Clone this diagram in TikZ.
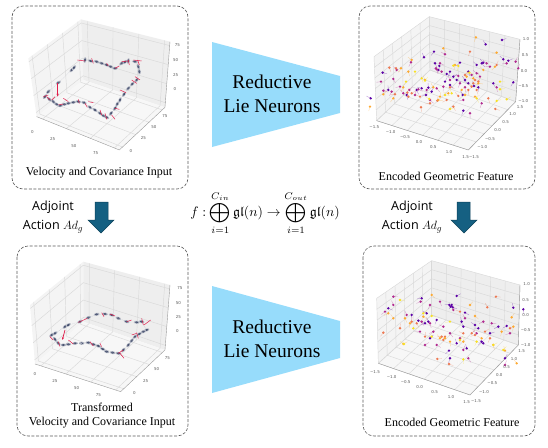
\documentclass[tikz,border=0pt]{standalone}
\usepackage{amsmath, amssymb, amsfonts}
\usepackage{fontspec}
\setmainfont{Liberation Serif}
\setsansfont{DejaVu Sans}
\newfontfamily\adjfont{Open Sans}
\usepackage{tikz}
\usetikzlibrary{arrows.meta, calc}
\usepackage{xcolor}
\definecolor{lieblue}{RGB}{151, 220, 251}
\definecolor{adjblue}{RGB}{21, 96, 130}
\definecolor{trackred}{RGB}{225, 30, 75}
\definecolor{trackdark}{RGB}{72, 82, 112}
\definecolor{plasmaA}{RGB}{92, 1, 166}
\definecolor{plasmaB}{RGB}{177, 42, 144}
\definecolor{plasmaC}{RGB}{237, 121, 83}
\definecolor{plasmaD}{RGB}{253, 170, 50}
\definecolor{plasmaE}{RGB}{248, 225, 35}

% panes, grid and axes of one 3d plot
\newcommand{\plotpanes}[8]{%
  \coordinate (pL) at (#1); \coordinate (pF) at (#2);
  \coordinate (pR) at (#3); \coordinate (pB) at (#4);
  \coordinate (pTL) at (#5); \coordinate (pTB) at (#6);
  \coordinate (pTR) at (#7);
  \fill[gray!9] (pL) -- (pB) -- (pTB) -- (pTL) -- cycle;
  \fill[gray!13] (pB) -- (pR) -- (pTR) -- (pTB) -- cycle;
  \fill[gray!6] (pL) -- (pF) -- (pR) -- (pB) -- cycle;
  \foreach \t in {#8} {
    \draw[gridline] ($(pL)!\t!(pB)$) -- ($(pTL)!\t!(pTB)$);
    \draw[gridline] ($(pB)!\t!(pR)$) -- ($(pTB)!\t!(pTR)$);
    \draw[gridline] ($(pL)!\t!(pTL)$) -- ($(pB)!\t!(pTB)$) -- ($(pR)!\t!(pTR)$);
    \draw[gridline] ($(pL)!\t!(pF)$) -- ($(pB)!\t!(pR)$);
    \draw[gridline] ($(pL)!\t!(pB)$) -- ($(pF)!\t!(pR)$);
  }
  \draw[axisline] (pL) -- (pF) -- (pR) -- (pTR);
}
\newcommand{\ticklabels}[2]{%
  \foreach \tx/\ty/\lab [count=\i] in {#2}
    \node[ticklab] (#1\i) at (\tx,\ty) {\lab};
}
% trajectory: x/y/angle
\newcommand{\trackpoints}[1]{%
  \foreach \x/\y/\a [remember=\x as \px (initially 0), remember=\y as \py (initially 0), count=\i] in {#1} {
    \ifnum\i>1 \draw[trackdark!50, line width=.3pt, densely dotted] (\px,\py) -- (\x,\y);\fi
    \fill[trackdark!40, shift={(\x,\y)}, rotate=\a] (0,0) ellipse (8.5 and 4.5);
    \fill[trackdark, shift={(\x,\y)}, rotate=\a] (0,0) ellipse (5.5 and 3);
  }
}
\newcommand{\trackticks}[1]{%
  \foreach \xa/\ya/\xb/\yb in {#1}
    \draw[trackred, line width=.5pt] (\xa,\ya) -- (\xb,\yb);
}
\newcommand{\scatterdots}[2]{%
  \foreach \x/\y in {#2} {
    \pgfmathsetmacro\ang{rnd*360}
    \draw[#1, opacity=.4, line width=.4pt] (\x,\y) -- ++(\ang:14);
    \fill[#1] (\x,\y) circle (4);
  }
}

\begin{document}
\begin{tikzpicture}[
    x=1pt, y=-1pt,
    panel/.style={draw=black!65, dash pattern=on 3pt off 1.6pt, line width=.6pt, rounded corners=11pt},
    caption/.style={font=\fontsize{12}{14}\selectfont, align=center, inner sep=0pt},
    lietext/.style={font=\fontsize{19.5}{24}\selectfont, align=center, inner sep=0pt},
    adjtext/.style={font=\adjfont\fontsize{12.6}{19}\selectfont, align=center, inner sep=0pt},
    gridline/.style={black!15, line width=.45pt},
    axisline/.style={black!40, line width=.4pt},
    ticklab/.style={font=\sffamily\fontsize{4}{5}\selectfont, text=black!65, inner sep=0pt},
    adjarrow/.style={fill=adjblue, draw=adjblue!70!black, line width=.5pt},
  ]
    \useasboundingbox (0,0) rectangle (548,447);

    % Panels
    \draw[panel] (12,6) rectangle (188,189);
    \draw[panel] (359,6) rectangle (535,189);
    \draw[panel] (17,246) rectangle (188,436);
    \draw[panel] (363,246) rectangle (535,436);

    % Velocity plot
    \begin{scope}[scale=.3333]
      \plotpanes{110,350}{358,450}{495,322}{250,240}{85,175}{243,58}{510,125}{.07,.36,.65,.94}
      \ticklabels{va}{97/395/0,158/416/25,222/438/50,287/458/75,393/452/0,430/415/25,462/380/50,495/347/75,525/267/0,527/224/25,527/180/50,532/136/75}
      \trackpoints{255/180/80,272/183/-20,290/185/-20,305/190/-20,320/195/-20,332/200/-20,345/205/-5,365/190/35,375/186/40,385/183/80,405/185/-10,415/200/-70,418/215/-80,410/240/50,397/252/45,385/265/45,372/283/55,360/300/70,352/312/60,345/325/55,333/340/50,320/352/-30,310/347/-30,300/340/-35,285/330/-35,270/322/-35,252/308/-20,235/305/-10,220/307/10,205/310/10,193/313/5,180/317/0,170/313/-30,160/305/-45,148/298/-45,135/290/50,145/275/45,175/248/30,215/210/50,222/203/50}
      \trackticks{232/180/255/183,275/175/280/190,320/190/325/198,345/205/358/198,365/185/385/183,400/180/425/183,385/180/388/195,413/180/418/195,395/240/410/250,405/230/420/240,360/270/378/278,345/325/358/328,335/345/345/358,315/340/320/358,300/330/305/345,265/305/280/308,255/310/262/322,235/298/238/310,190/295/205/305,155/300/165/290,140/290/150/300,130/290/145/285,175/315/190/312}
      \draw[trackred, line width=.7pt, -{Stealth[length=3pt]}] (173,250) -- (173,290);
    \end{scope}
    \node[caption] (velcap) at (99,173) {Velocity and Covariance Input};

    % Encoded plot
    \begin{scope}[shift={(350,0)}, scale=.3333]
      \pgfmathsetseed{11}
      \plotpanes{80,362}{355,450}{497,305}{240,210}{72,170}{238,50}{510,118}{0,.1667,.3333,.5,.6667,.8333,1}
      \ticklabels{ea}{73/382/−1.5,122/397/−1.0,165/412/−0.5,207/427/0.0,250/441/0.5,297/456/1.0,347/472/1.5}
      \scatterdots{plasmaA}{407/133,456/120,252/155,222/172,98/218,62/295,255/190,330/188,300/215,460/178,400/188,430/250,490/247,372/258,340/332,338/285,285/245,310/230,235/263,228/285,200/270,115/270,345/240,380/195,265/210,355/215,475/182,268/198,290/222,320/240,355/250,385/262,245/275,215/265,170/285,395/190,300/255}
      \scatterdots{plasmaB}{285/163,183/187,270/190,258/205,260/208,140/210,93/245,130/237,100/272,125/275,150/260,178/270,205/268,240/300,260/265,300/240,325/228,365/225,390/230,410/190,505/205,497/185,440/262,395/310,340/300,360/340,280/260,275/215,330/250,345/262,230/270,195/285,160/280,420/200,470/190,380/220}
      \scatterdots{plasmaC}{213/322,138/205,185/280,175/290,135/283,375/240,385/245,355/270,415/295,436/327,440/195,360/155,118/203,310/320,325/288,262/302,290/300,345/225,370/250,380/270,365/260,300/262,240/310,210/290,172/278}
      \scatterdots{plasmaD}{378/112,280/145,440/158,60/320,175/215,153/205,185/180,435/200,375/290,315/195,100/283,130/295,225/240,265/300,160/262,400/210,370/235,295/280,250/262,385/250,350/230,270/290,345/285,335/270}
      \scatterdots{plasmaE}{168/245,215/235,225/242,300/327,285/285,305/280,325/198,310/197,450/268,440/303,470/298,450/245,380/295,358/218,238/297,195/215}
      \ticklabels{eb}{372/470/−1.5,397/441/−1.0,420/416/−0.5,443/391/0.0,467/367/0.5,488/342/1.0,510/320/1.5,520/303/−1.0,520/258/−0.5,522/213/0.0,525/165/0.5,528/118/1.0}
    \end{scope}
    \node[caption] (enccap) at (446,176) {Encoded Geometric Feature};

    % Transformed plot
    \begin{scope}[shift={(0,190)}, scale=.3333]
      \plotpanes{105,522}{362,605}{495,480}{250,395}{90,345}{250,215}{510,285}{.07,.36,.65,.94}
      \ticklabels{ta}{105/552/0,165/572/25,230/593/50,295/615/75,403/608/0,437/572/25,470/537/50,502/504/75,532/424/0,535/381/25,535/338/50,540/293/75}
      \trackpoints{265/383/20,290/373/10,315/372/-5,335/375/-15,355/385/-20,380/395/-15,410/397/-5,425/395/-10,440/420/20,430/425/20,418/432/30,405/440/40,395/452/50,385/465/50,370/480/50,355/490/-10,338/488/-10,320/485/-15,308/477/-25,295/468/-20,280/463/-15,265/458/-5,245/460/0,225/460/5,205/463/0,190/465/0,175/460/-45,165/448/-55,155/435/40,165/430/35,195/410/40,205/405/35,240/395/25}
      \trackticks{235/397/262/385,305/368/312/380,330/372/345/378,380/395/395/390,425/385/430/405,432/405/452/390,395/435/410/430,410/428/415/445,360/490/372/505,355/490/370/480,270/455/280/468,300/460/305/470,205/450/220/462,150/440/160/450,175/455/180/470}
      \draw[trackred, line width=.7pt, -{Stealth[length=3pt]}] (195,420) -- (187,450);
    \end{scope}
    \node[caption] (transcap) at (102,416) {Transformed\\Velocity and Covariance Input};

    % Encoded plot, transformed
    \begin{scope}[shift={(350,190)}, scale=.3333]
      \pgfmathsetseed{5}
      \plotpanes{85,520}{360,615}{505,465}{245,375}{80,325}{245,212}{510,285}{0,.1667,.3333,.5,.6667,.8333,1}
      \ticklabels{ga}{75/547/−1.5,125/561/−1.0,167/576/−0.5,209/590/0.0,254/605/0.5,303/620/1.0,350/635/1.5}
      \scatterdots{plasmaA}{215/325,320/318,302/350,308/352,298/345,490/353,520/358,115/355,345/368,230/370,335/395,375/405,445/410,470/408,395/455,465/505,297/482,300/505,350/475,185/375,260/390,420/430,320/460,225/400,400/460,240/445,235/395,205/392,385/415,305/345,340/410}
      \scatterdots{plasmaB}{212/335,130/320,130/345,105/365,170/375,240/345,270/335,310/360,215/395,240/400,210/425,250/425,345/385,400/395,480/430,355/505,340/480,225/465,280/410,380/430,465/525,300/430,330/445,260/465,425/400}
      \scatterdots{plasmaC}{438/320,412/352,225/440,262/507,297/522,275/440,285/440,340/430,375/435,405/425,330/365,480/415,150/415,100/428,185/395,365/430,280/450,200/400,420/445}
      \scatterdots{plasmaD}{245/315,115/370,485/382,360/345,375/378,130/385,455/425,220/380,270/445,285/445,430/465,500/520,465/482,160/462,180/400,490/410,300/455,165/385,340/455,395/445}
      \scatterdots{plasmaE}{150/330,220/370,245/378,340/508,162/462,380/455,430/465,190/415,460/480,330/450,300/395,245/440}
      \ticklabels{gb}{378/632/−1.5,402/605/−1.0,427/579/−0.5,448/554/0.0,470/530/0.5,492/507/1.0,515/483/1.5,527/466/−1.0,527/421/−0.5,527/376/0.0,527/329/0.5,530/283/1.0}
    \end{scope}
    \node[caption] (geocap) at (452,422) {Encoded Geometric Feature};

    % Lie neuron blocks
    \fill[lieblue] (212,42) -- (340,76) -- (340,113) -- (212,147) -- cycle;
    \fill[lieblue] (212,286) -- (340,321) -- (340,358) -- (212,393) -- cycle;
    \node[lietext] (lietop) at (272,94) {Reductive\\Lie Neurons};
    \node[lietext] (liebot) at (272,339) {Reductive\\Lie Neurons};

    % Adjoint arrows
    \draw[adjarrow] (95,202) -- (108,202) -- (108,220) -- (114,220) -- (101,233)
      -- (88,220) -- (95,220) -- cycle;
    \draw[adjarrow] (457,202) -- (470,202) -- (470,220) -- (477,220) -- (464,233)
      -- (451,220) -- (457,220) -- cycle;
    \node[adjtext] (adjl) at (53,217) {Adjoint\\Action $Ad_g$};
    \node[adjtext] (adjr) at (412,217) {Adjoint\\Action $Ad_g$};

    % Map
    \node[inner sep=0pt, scale=1.38] (fmap) at (265,213)
      {$\displaystyle f:\bigoplus_{i=1}^{C_{in}}\mathfrak{gl}(n)\rightarrow\bigoplus_{i=1}^{C_{out}}\mathfrak{gl}(n)$};
\end{tikzpicture}
\end{document}
